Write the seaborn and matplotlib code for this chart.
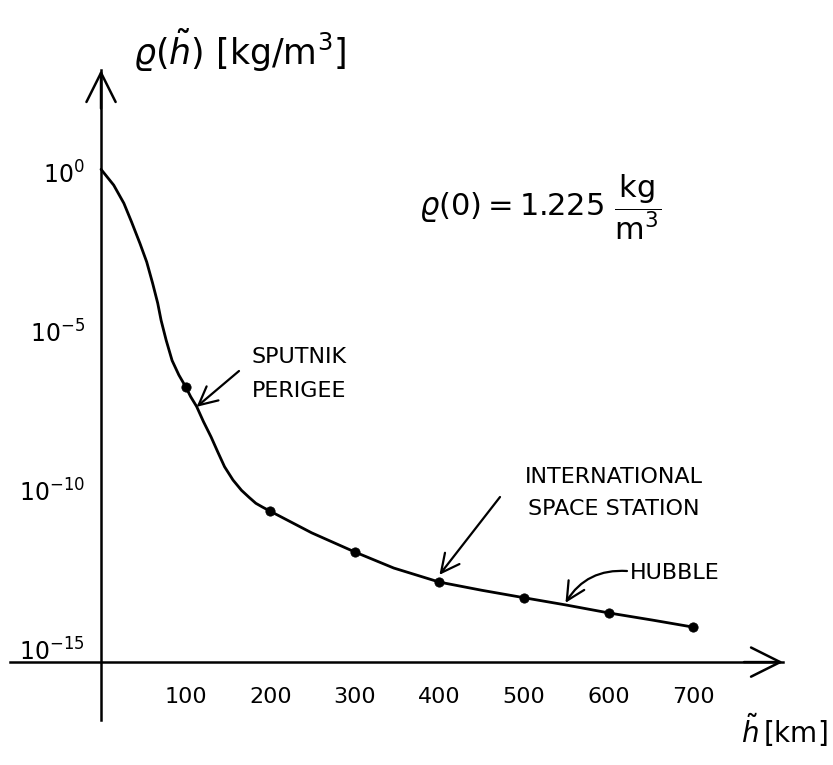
import matplotlib
matplotlib.use("Agg")
import matplotlib.pyplot as plt
import pandas as pd
import seaborn as sns
from matplotlib.ticker import FixedLocator, FixedFormatter, NullLocator

# Density profile of the atmosphere, altitude in km, density in kg/m^3
curve_altitude_km = [0, 15, 27, 36, 46, 54, 61, 67, 71, 77, 84, 92, 100,
                     106, 113, 121, 130, 138, 146, 156, 166, 175, 183, 191, 200,
                     249, 300, 346, 400, 450, 500, 549, 600, 652, 700]
curve_density = [1.225, 3.9e-1, 1.05e-1, 2.75e-2, 5.75e-3, 1.5e-3, 3.2e-4, 7.6e-5,
                 2.2e-5, 5.2e-6, 1.2e-6, 4.2e-7, 1.8e-7,
                 8.7e-8, 4.3e-8, 1.45e-8, 4.8e-9, 1.6e-9, 5.5e-10, 2.1e-10, 1.0e-10,
                 6.0e-11, 3.9e-11, 2.95e-11, 2.2e-11,
                 4.6e-12, 1.15e-12, 3.6e-13, 1.3e-13, 7.2e-14, 4.2e-14, 2.5e-14,
                 1.4e-14, 8.3e-15, 5.0e-15]

# Sampled altitudes marked with dots
marker_altitude_km = [100, 200, 300, 400, 500, 600, 700]
marker_density = [1.8e-7, 2.2e-11, 1.15e-12, 1.3e-13, 4.2e-14, 1.4e-14, 5.0e-15]

x_ticks = [100, 200, 300, 400, 500, 600, 700]
x_tick_labels = ["100", "200", "300", "400", "500", "600", "700"]
y_ticks = [1e0, 1e-5, 1e-10, 1e-15]
y_tick_labels = [r"$10^{0}$", r"$10^{-5}$", r"$10^{-10}$", r"$10^{-15}$"]

# Orbits pointed out on the curve: (label, altitude km, density)
sputnik = ("SPUTNIK\nPERIGEE", 113, 4.2e-8)
iss = ("INTERNATIONAL\nSPACE STATION", 400, 2.2e-13)
hubble = ("HUBBLE", 549, 2.9e-14)

sns.set_theme(style="white")
plt.rcParams["mathtext.fontset"] = "dejavusans"
label_font = ["DejaVu Sans"]

curve_df = pd.DataFrame({"altitude": curve_altitude_km, "density": curve_density})
marker_df = pd.DataFrame({"altitude": marker_altitude_km, "density": marker_density})

W, H = 833, 765
fig = plt.figure(figsize=(W / 100, H / 100), dpi=100)
fig.patch.set_facecolor("white")
ax = fig.add_axes([10 / W, 45 / H, 773 / W, 650 / H])
ax.set_facecolor("white")

line = sns.lineplot(data=curve_df, x="altitude", y="density", ax=ax, color="black",
                    lw=2.0, sort=False, estimator=None)
for ln in ax.lines:
    ln.set_solid_joinstyle("round")
    ln.set_solid_capstyle("round")
sns.scatterplot(data=marker_df, x="altitude", y="density", ax=ax, color="black",
                s=45, edgecolor="black", zorder=5)

ax.set_yscale("log")
ax.set_xlim(-107.6, 806.1)
ax.set_ylim(10 ** -17.22, 10 ** 3.21)
x_axis_level = 10 ** -15.4

# Axes crossing near the origin
for side in ("top", "right"):
    ax.spines[side].set_visible(False)
ax.spines["left"].set_position(("data", 0))
ax.spines["bottom"].set_position(("data", x_axis_level))
for side in ("left", "bottom"):
    ax.spines[side].set_linewidth(1.8)
    ax.spines[side].set_color("black")

ax.xaxis.set_major_locator(FixedLocator(x_ticks))
ax.xaxis.set_major_formatter(FixedFormatter(x_tick_labels))
ax.yaxis.set_major_locator(FixedLocator(y_ticks))
ax.yaxis.set_major_formatter(FixedFormatter(y_tick_labels))
ax.yaxis.set_minor_locator(NullLocator())
ax.tick_params(axis="x", direction="inout", length=16, width=1.6, pad=10,
               labelsize=16, colors="black")
ax.tick_params(axis="y", direction="inout", length=11, width=2.0, pad=6,
               labelsize=17, colors="black")
ax.yaxis.get_major_ticks()[-1].tick1line.set_visible(False)
ax.set_xlabel("")
ax.set_ylabel("")

# Arrow heads on both axes
head = dict(arrowstyle="->,head_length=0.7,head_width=0.35", lw=1.8,
            color="black", mutation_scale=30, shrinkA=0, shrinkB=0)
ax.annotate("", xy=(806.1, x_axis_level), xytext=(760, x_axis_level),
            arrowprops=head)
ax.annotate("", xy=(0, 10 ** 3.21), xytext=(0, 10 ** 2.0), arrowprops=head)

# Axis titles
fig.text(240 / W, 1 - 50 / H, r"$\varrho(\tilde{h})\ [\mathrm{kg}/\mathrm{m}^3]$",
         fontsize=25, ha="center", va="center", color="black")
fig.text(828 / W, 1 - 730 / H, r"$\tilde{h}\,[\mathrm{km}]$",
         fontsize=20, ha="right", va="center", color="black")

# Sea-level density
fig.text(540 / W, 1 - 207 / H, r"$\varrho(0) = 1.225\ \dfrac{\mathrm{kg}}{\mathrm{m}^3}$",
         fontsize=22, ha="center", va="center", color="black")

pointer = dict(arrowstyle="->,head_length=0.6,head_width=0.3", lw=1.6,
               color="black", mutation_scale=22, shrinkA=0, shrinkB=0)

ax.annotate("", xy=(sputnik[1], sputnik[2]), xytext=(239, H - 371),
            textcoords="figure pixels", arrowprops=pointer)
fig.text(252 / W, 1 - 374 / H, sputnik[0], fontsize=16, family=label_font,
         ha="left", va="center", linespacing=1.9, color="black")

ax.annotate("", xy=(iss[1], iss[2]), xytext=(500, H - 497),
            textcoords="figure pixels", arrowprops=pointer)
fig.text(614 / W, 1 - 493 / H, iss[0], fontsize=16, family=label_font,
         ha="center", va="center", linespacing=1.7, color="black")

ax.annotate("", xy=(hubble[1], hubble[2]), xytext=(627, H - 571),
            textcoords="figure pixels",
            arrowprops=dict(pointer, connectionstyle="arc3,rad=0.3"))
fig.text(630 / W, 1 - 573 / H, hubble[0], fontsize=16, family=label_font,
         ha="left", va="center", color="black")

fig.savefig("out.png", dpi=100, facecolor="white")
